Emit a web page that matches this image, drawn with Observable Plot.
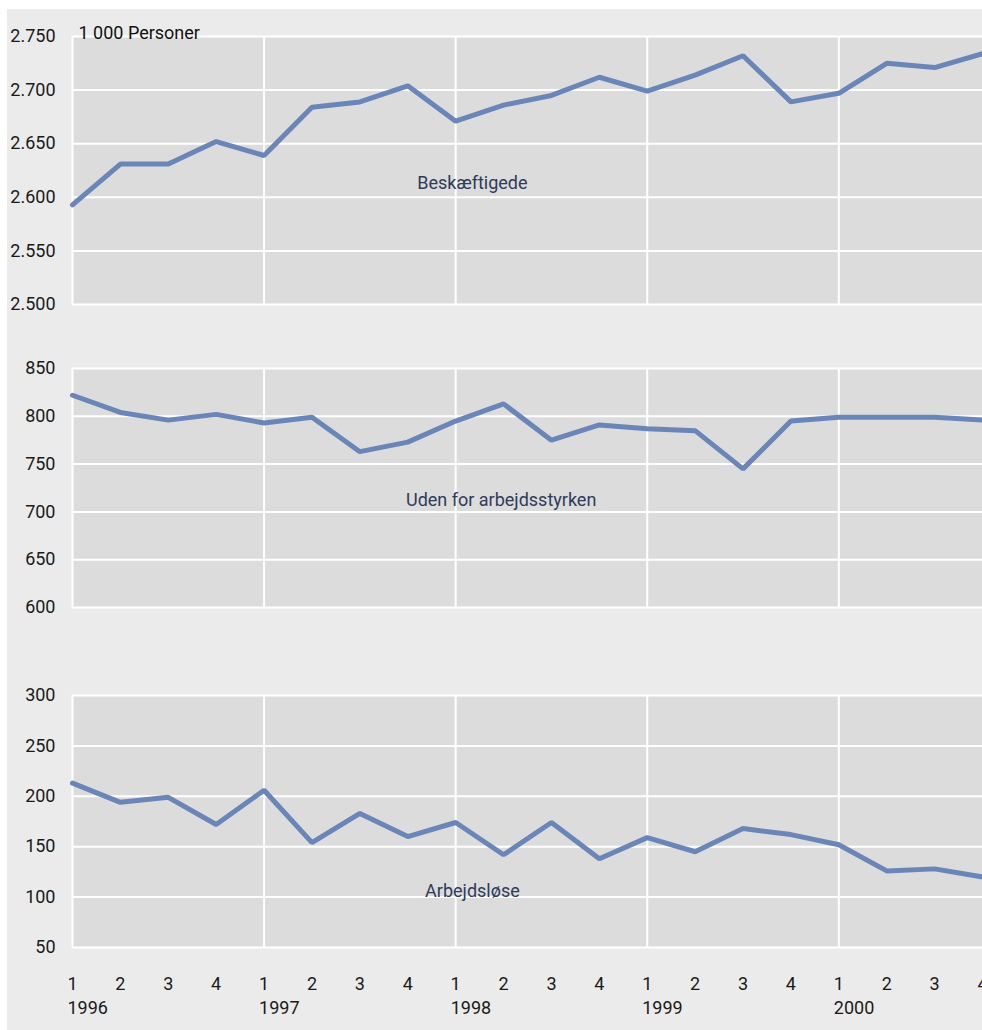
<!DOCTYPE html>
<html>
<head>
<meta charset="utf-8">
<script src="https://cdn.jsdelivr.net/npm/d3@7"></script>
<script src="https://cdn.jsdelivr.net/npm/@observablehq/plot@0.6"></script>
<style>
  html, body { margin: 0; padding: 0; background: #ffffff; }
  #wrap { position: relative; width: 982px; height: 1030px; overflow: hidden; background: #ffffff; }
  #bg { position: absolute; left: 7px; top: 9px; right: 0; bottom: 0; background: #ebebeb; }
  .panel { position: absolute; left: 0; }
</style>
</head>
<body>
<div id="wrap"><div id="bg"></div></div>
<script>
// ---- Data (1 000 personer, quarterly 1996Q1–2000Q4) ----
const years = ["1996", "1997", "1998", "1999", "2000"];
const quarterLabels = ["1", "2", "3", "4"];
const beskaeftigede = [2593, 2631, 2631, 2652, 2639, 2684, 2689, 2704, 2671, 2686,
                       2695, 2712, 2699, 2714, 2732, 2689, 2697, 2725, 2721, 2734];
const udenFor = [822, 804, 796, 802, 793, 799, 763, 773, 795, 813,
                 775, 791, 787, 785, 745, 795, 799, 799, 799, 796];
const arbejdsloese = [213, 194, 199, 172, 206, 154, 183, 160, 174, 142,
                      174, 138, 159, 145, 168, 162, 152, 126, 128, 120];
const yTicks1 = [2500, 2550, 2600, 2650, 2700, 2750];
const yTicks2 = [600, 650, 700, 750, 800, 850];
const yTicks3 = [50, 100, 150, 200, 250, 300];
const unitLabel = "1 000 Personer";
const seriesNames = ["Beskæftigede", "Uden for arbejdsstyrken", "Arbejdsløse"];

// ---- Helpers ----
const quarters = d3.range(years.length * quarterLabels.length);
const yearStarts = years.map((y, i) => i * quarterLabels.length);
const fmt = d3.formatLocale({decimal: ",", thousands: ".", grouping: [3]}).format(",");
const lineColor = "#6a86b8";
const labelColor = "#2e3b5a";
const font = "Roboto, 'Open Sans', sans-serif";

function panel({values, domain, ticks, top, marginTop, plotHeight, marginBottom, name, nameX, nameY, extra = [], xAxis = false}) {
  const data = quarters.map(i => ({i, v: values[i]}));
  const marks = [
    Plot.frame({fill: "#dcdcdc", stroke: null}),
    Plot.gridY(ticks, {stroke: "#ffffff", strokeOpacity: 1, strokeWidth: 2}),
    Plot.gridX(yearStarts, {stroke: "#ffffff", strokeOpacity: 1, strokeWidth: 2}),
    Plot.axisY(ticks, {tickSize: 0, tickPadding: 17, tickFormat: fmt, fill: "#1a1a1a"}),
    Plot.line(data, {x: "i", y: "v", stroke: lineColor, strokeWidth: 5, strokeLinejoin: "miter"}),
    Plot.text([name], {x: nameX, y: nameY, text: d => d, fill: labelColor, fontSize: 18}),
    ...extra
  ];
  if (xAxis) {
    marks.push(Plot.axisX(quarters, {tickSize: 0, tickPadding: 30,
      tickFormat: i => quarterLabels[i % quarterLabels.length], fill: "#1a1a1a"}));
    marks.push(Plot.text(years, {x: (d, i) => yearStarts[i], frameAnchor: "bottom", dy: 66,
      dx: -5, textAnchor: "start", text: d => d, fill: "#1a1a1a", fontSize: 18}));
  } else {
    marks.push(Plot.axisX({ticks: [], tickSize: 0, label: null}));
  }
  const svg = Plot.plot({
    width: 982,
    height: marginTop + plotHeight + marginBottom,
    marginLeft: 72,
    marginRight: 0,
    marginTop,
    marginBottom,
    x: {domain: [0, quarters.length - 1], label: null},
    y: {domain, label: null},
    style: {background: "transparent", fontFamily: font, fontSize: "18px", color: "#1a1a1a", overflow: "visible"},
    marks
  });
  svg.classList.add("panel");
  svg.style.top = top + "px";
  svg.style.position = "absolute";
  document.getElementById("wrap").appendChild(svg);
}

panel({values: beskaeftigede, domain: [2500, 2750], ticks: yTicks1, top: 0, marginTop: 36, plotHeight: 268,
  marginBottom: 20, name: seriesNames[0], nameX: 8.35, nameY: 2613,
  extra: [Plot.text([unitLabel], {frameAnchor: "top-left", dx: 6, dy: 2, textAnchor: "start",
    lineAnchor: "bottom", text: d => d, fill: "#111111", fontSize: 18})]});
panel({values: udenFor, domain: [600, 850], ticks: yTicks2, top: 330, marginTop: 38, plotHeight: 239,
  marginBottom: 20, name: seriesNames[1], nameX: 8.95, nameY: 712});
panel({values: arbejdsloese, domain: [50, 300], ticks: yTicks3, top: 660, marginTop: 35, plotHeight: 252,
  marginBottom: 83, name: seriesNames[2], nameX: 8.35, nameY: 106, xAxis: true});
</script>
</body>
</html>
